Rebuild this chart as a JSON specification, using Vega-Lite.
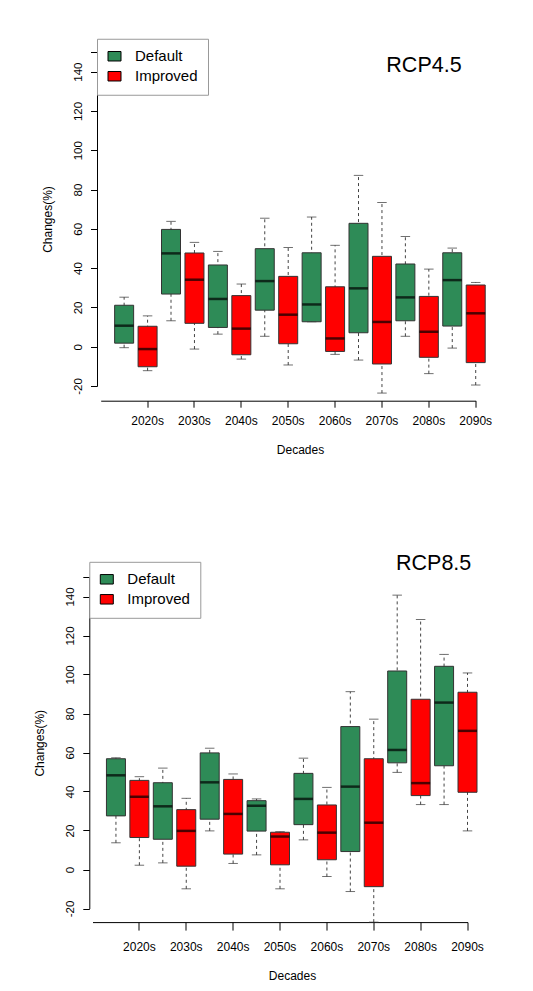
{
  "$schema": "https://vega.github.io/schema/vega-lite/v6.json",
  "padding": {"left": 33.5, "top": 38, "right": 0, "bottom": 0},
  "background": "white",
  "datasets": {
    "rcp45": [
      {"decade": "2020s", "scenario": "Default", "lo": -0.5, "q1": 1.8, "med": 10.7, "q3": 21.1, "hi": 25.2},
      {"decade": "2020s", "scenario": "Improved", "lo": -12.2, "q1": -10.2, "med": -1.2, "q3": 10.4, "hi": 15.7},
      {"decade": "2030s", "scenario": "Default", "lo": 13.2, "q1": 26.8, "med": 47.5, "q3": 59.7, "hi": 63.8},
      {"decade": "2030s", "scenario": "Improved", "lo": -1.2, "q1": 11.9, "med": 34.1, "q3": 47.7, "hi": 53.1},
      {"decade": "2040s", "scenario": "Default", "lo": 6.4, "q1": 9.8, "med": 24.3, "q3": 41.6, "hi": 48.5},
      {"decade": "2040s", "scenario": "Improved", "lo": -6.3, "q1": -4.1, "med": 9.2, "q3": 26.0, "hi": 31.9},
      {"decade": "2050s", "scenario": "Default", "lo": 5.3, "q1": 18.6, "med": 33.4, "q3": 49.9, "hi": 65.4},
      {"decade": "2050s", "scenario": "Improved", "lo": -9.3, "q1": 1.5, "med": 16.3, "q3": 35.8, "hi": 50.5},
      {"decade": "2060s", "scenario": "Default", "lo": 12.7, "q1": 12.7, "med": 21.5, "q3": 47.8, "hi": 66.0},
      {"decade": "2060s", "scenario": "Improved", "lo": -3.9, "q1": -2.4, "med": 4.2, "q3": 30.5, "hi": 51.6},
      {"decade": "2070s", "scenario": "Default", "lo": -6.8, "q1": 7.1, "med": 29.7, "q3": 62.8, "hi": 87.2},
      {"decade": "2070s", "scenario": "Improved", "lo": -23.6, "q1": -8.8, "med": 12.6, "q3": 46.0, "hi": 73.4},
      {"decade": "2080s", "scenario": "Default", "lo": 5.3, "q1": 13.2, "med": 25.1, "q3": 42.1, "hi": 56.1},
      {"decade": "2080s", "scenario": "Improved", "lo": -13.7, "q1": -5.4, "med": 7.6, "q3": 25.6, "hi": 39.5},
      {"decade": "2090s", "scenario": "Default", "lo": -0.7, "q1": 10.5, "med": 33.9, "q3": 47.8, "hi": 50.2},
      {"decade": "2090s", "scenario": "Improved", "lo": -19.5, "q1": -8.1, "med": 17.0, "q3": 31.4, "hi": 32.7}
    ],
    "rcp85": [
      {"decade": "2020s", "scenario": "Default", "lo": 13.7, "q1": 27.5, "med": 48.3, "q3": 56.8, "hi": 57.3},
      {"decade": "2020s", "scenario": "Improved", "lo": 2.2, "q1": 16.4, "med": 37.3, "q3": 45.7, "hi": 47.6},
      {"decade": "2030s", "scenario": "Default", "lo": 3.4, "q1": 15.5, "med": 32.4, "q3": 44.5, "hi": 52.0},
      {"decade": "2030s", "scenario": "Improved", "lo": -9.9, "q1": 1.7, "med": 19.8, "q3": 30.7, "hi": 36.5},
      {"decade": "2040s", "scenario": "Default", "lo": 19.8, "q1": 25.8, "med": 44.7, "q3": 59.8, "hi": 62.2},
      {"decade": "2040s", "scenario": "Improved", "lo": 3.1, "q1": 7.9, "med": 28.5, "q3": 46.2, "hi": 49.0},
      {"decade": "2050s", "scenario": "Default", "lo": 7.5, "q1": 19.7, "med": 32.7, "q3": 35.3, "hi": 36.2},
      {"decade": "2050s", "scenario": "Improved", "lo": -9.9, "q1": 2.4, "med": 16.9, "q3": 19.1, "hi": 19.4},
      {"decade": "2060s", "scenario": "Default", "lo": 15.2, "q1": 23.0, "med": 36.2, "q3": 49.3, "hi": 57.1},
      {"decade": "2060s", "scenario": "Improved", "lo": -3.6, "q1": 5.0, "med": 18.9, "q3": 33.1, "hi": 42.1},
      {"decade": "2070s", "scenario": "Default", "lo": -11.3, "q1": 9.2, "med": 42.5, "q3": 73.3, "hi": 91.2},
      {"decade": "2070s", "scenario": "Improved", "lo": -27.0, "q1": -8.8, "med": 24.0, "q3": 56.8, "hi": 77.1},
      {"decade": "2080s", "scenario": "Default", "lo": 49.8, "q1": 54.7, "med": 61.3, "q3": 101.8, "hi": 140.7},
      {"decade": "2080s", "scenario": "Improved", "lo": 33.3, "q1": 37.9, "med": 44.3, "q3": 87.3, "hi": 128.2},
      {"decade": "2090s", "scenario": "Default", "lo": 33.3, "q1": 53.2, "med": 85.6, "q3": 104.2, "hi": 110.3},
      {"decade": "2090s", "scenario": "Improved", "lo": 19.8, "q1": 39.6, "med": 71.1, "q3": 90.9, "hi": 100.8}
    ]
  },
  "spacing": 96,
  "resolve": {
    "scale": {"x": "independent", "y": "independent", "xOffset": "independent", "color": "independent"},
    "axis": {"x": "independent", "y": "independent"},
    "legend": {"color": "independent"}
  },
  "vconcat": [
    {
      "width": 384,
      "height": 334,
      "data": {"name": "rcp45"},
      "layer": [
        {
          "mark": {"type": "rule", "strokeDash": [3, 3], "color": "#444444", "strokeWidth": 1},
          "encoding": {
            "x": {"field": "decade", "type": "nominal", "scale": {"range": [8.2, 383.2], "paddingInner": 0, "paddingOuter": 0},
                  "axis": {"title": "Decades", "labelAngle": 0, "bandPosition": 1, "labelOffset": 23.44, "offset": 14.7, "labelPadding": 8, "titlePadding": 18, "titleX": 207.5}},
            "xOffset": {"field": "scenario", "type": "nominal", "scale": {"range": [13.94, 56.38], "paddingInner": 0.1894, "paddingOuter": 0}},
            "y": {"field": "lo", "type": "quantitative", "scale": {"domain": [-20, 150], "nice": false, "zero": false},
                  "axis": {"title": "Changes(%)", "values": [-20, 0, 20, 40, 60, 80, 100, 120, 140, 150], "tickCount": 20, "labelOverlap": false, "labelExpr": "datum.value == 150 ? '' : '' + datum.value", "labelAngle": -90, "labelAlign": "center", "labelBaseline": "alphabetic", "labelPadding": 9, "labelFontSize": 11.5, "offset": -4.5, "titlePadding": 18}},
            "y2": {"field": "hi"}
          }
        },
        {
          "mark": {"type": "tick", "size": 9.5, "thickness": 1, "color": "#333333"},
          "encoding": {
            "x": {"field": "decade", "type": "nominal"},
            "xOffset": {"field": "scenario", "type": "nominal"},
            "y": {"field": "hi", "type": "quantitative"}
          }
        },
        {
          "mark": {"type": "tick", "size": 9.5, "thickness": 1, "color": "#333333"},
          "encoding": {
            "x": {"field": "decade", "type": "nominal"},
            "xOffset": {"field": "scenario", "type": "nominal"},
            "y": {"field": "lo", "type": "quantitative"}
          }
        },
        {
          "mark": {"type": "bar", "stroke": "#333333", "strokeWidth": 1, "opacity": 1},
          "encoding": {
            "x": {"field": "decade", "type": "nominal"},
            "xOffset": {"field": "scenario", "type": "nominal"},
            "y": {"field": "q1", "type": "quantitative"},
            "y2": {"field": "q3"},
            "color": {"field": "scenario", "type": "nominal",
                      "scale": {"domain": ["Default", "Improved"], "range": ["#2E8B57", "#FF0000"]},
                      "legend": {"orient": "none", "legendX": 4.5, "legendY": -13.25, "title": null,
                                 "symbolType": "M-1,-0.73H1V0.73H-1Z", "symbolSize": 169, "symbolStrokeColor": "black", "symbolStrokeWidth": 1,
                                 "labelFontSize": 15, "labelFont": "Liberation Sans", "labelColor": "black", "padding": 10, "rowPadding": 4, "labelOffset": 13,
                                 "strokeColor": "#999999", "fillColor": "white",
                                 "encode": {"symbols": {"update": {"fill": {"signal": "datum.value === 'Default' ? '#008B00' : '#FF0000'"}, "opacity": {"value": 1}}}}}}
          }
        },
        {
          "mark": {"type": "tick", "size": 19, "thickness": 2.5, "color": "black"},
          "encoding": {
            "x": {"field": "decade", "type": "nominal"},
            "xOffset": {"field": "scenario", "type": "nominal"},
            "y": {"field": "med", "type": "quantitative"}
          }
        },
        {
          "data": {"values": [{"t": "RCP4.5"}]},
          "mark": {"type": "text", "fontSize": 21.5, "font": "Liberation Sans", "baseline": "alphabetic", "align": "center", "dx": 18.6, "color": "black"},
          "encoding": {
            "x": {"datum": "2080s", "type": "nominal"},
            "y": {"datum": 140, "type": "quantitative"},
            "text": {"field": "t"}
          }
        }
      ]
    },
    {
      "width": 375,
      "height": 331.5,
      "data": {"name": "rcp85"},
      "layer": [
        {
          "mark": {"type": "rule", "strokeDash": [3, 3], "color": "#444444", "strokeWidth": 1},
          "encoding": {
            "x": {"field": "decade", "type": "nominal", "scale": {"range": [0, 375], "paddingInner": 0, "paddingOuter": 0},
                  "axis": {"title": "Decades", "labelAngle": 0, "bandPosition": 1, "labelOffset": 23.44, "offset": 13.6, "tickSize": 8, "labelPadding": 11, "titlePadding": 18, "titleX": 199.5}},
            "xOffset": {"field": "scenario", "type": "nominal", "scale": {"range": [13.94, 56.38], "paddingInner": 0.1894, "paddingOuter": 0}},
            "y": {"field": "lo", "type": "quantitative", "scale": {"domain": [-20, 150], "nice": false, "zero": false},
                  "axis": {"title": "Changes(%)", "values": [-20, 0, 20, 40, 60, 80, 100, 120, 140, 150], "tickCount": 20, "labelOverlap": false, "labelExpr": "datum.value == 150 ? '' : '' + datum.value", "labelAngle": -90, "labelAlign": "center", "labelBaseline": "alphabetic", "labelPadding": 9, "labelFontSize": 11.5, "offset": 3.2, "titlePadding": 18}},
            "y2": {"field": "hi"}
          }
        },
        {
          "mark": {"type": "tick", "size": 9.5, "thickness": 1, "color": "#333333"},
          "encoding": {
            "x": {"field": "decade", "type": "nominal"},
            "xOffset": {"field": "scenario", "type": "nominal"},
            "y": {"field": "hi", "type": "quantitative"}
          }
        },
        {
          "mark": {"type": "tick", "size": 9.5, "thickness": 1, "color": "#333333"},
          "encoding": {
            "x": {"field": "decade", "type": "nominal"},
            "xOffset": {"field": "scenario", "type": "nominal"},
            "y": {"field": "lo", "type": "quantitative"}
          }
        },
        {
          "mark": {"type": "bar", "stroke": "#333333", "strokeWidth": 1, "opacity": 1},
          "encoding": {
            "x": {"field": "decade", "type": "nominal"},
            "xOffset": {"field": "scenario", "type": "nominal"},
            "y": {"field": "q1", "type": "quantitative"},
            "y2": {"field": "q3"},
            "color": {"field": "scenario", "type": "nominal",
                      "scale": {"domain": ["Default", "Improved"], "range": ["#2E8B57", "#FF0000"]},
                      "legend": {"orient": "none", "legendX": -3.2, "legendY": -15.2, "title": null,
                                 "symbolType": "M-1,-0.73H1V0.73H-1Z", "symbolSize": 169, "symbolStrokeColor": "black", "symbolStrokeWidth": 1,
                                 "labelFontSize": 15, "labelFont": "Liberation Sans", "labelColor": "black", "padding": 10, "rowPadding": 4, "labelOffset": 13,
                                 "strokeColor": "#999999", "fillColor": "white",
                                 "encode": {"symbols": {"update": {"fill": {"signal": "datum.value === 'Default' ? '#008B00' : '#FF0000'"}, "opacity": {"value": 1}}}}}}
          }
        },
        {
          "mark": {"type": "tick", "size": 19, "thickness": 2.5, "color": "black"},
          "encoding": {
            "x": {"field": "decade", "type": "nominal"},
            "xOffset": {"field": "scenario", "type": "nominal"},
            "y": {"field": "med", "type": "quantitative"}
          }
        },
        {
          "data": {"values": [{"t": "RCP8.5"}]},
          "mark": {"type": "text", "fontSize": 21.5, "font": "Liberation Sans", "baseline": "alphabetic", "align": "center", "dx": -10.4, "color": "black"},
          "encoding": {
            "x": {"datum": "2090s", "type": "nominal"},
            "y": {"datum": 153.6, "type": "quantitative"},
            "text": {"field": "t"}
          }
        }
      ]
    }
  ],
  "config": {
    "view": {"stroke": null},
    "font": "Liberation Sans",
    "axis": {
      "grid": false,
      "labelOverlap": false,
      "domainColor": "black",
      "tickColor": "black",
      "labelColor": "black",
      "titleColor": "black",
      "labelFont": "Liberation Sans",
      "titleFont": "Liberation Sans",
      "titleFontWeight": "normal",
      "tickSize": 6.5,
      "labelFontSize": 12,
      "titleFontSize": 12
    }
  }
}
